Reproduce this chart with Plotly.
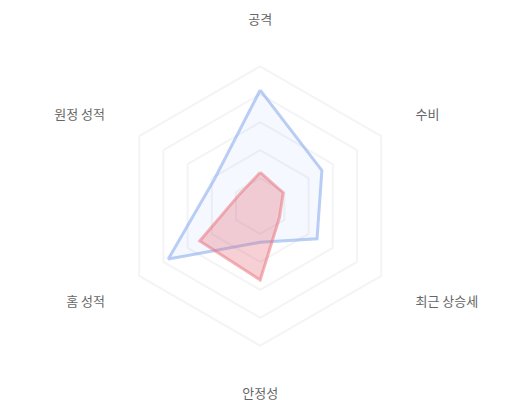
import plotly.graph_objects as go

# 레이더 차트 항목
categories = ["공격", "수비", "최근 상승세", "안정성", "홈 성적", "원정 성적"]

# 두 팀 점수 (0~100)
team_a = [83, 51, 47, 26, 76, 38]
team_b = [24, 19, 16, 53, 50, 17]

grid_levels = [20, 40, 60, 80, 100]


def closed(values):
    return values + values[:1]


fig = go.Figure()

fig.add_trace(go.Scatterpolar(
    r=closed(team_a),
    theta=closed(categories),
    mode="lines",
    fill="toself",
    fillcolor="rgba(110,150,235,0.07)",
    line=dict(color="rgba(120,160,235,0.5)", width=3),
    name="A",
))
fig.add_trace(go.Scatterpolar(
    r=closed(team_b),
    theta=closed(categories),
    mode="lines",
    fill="toself",
    fillcolor="rgba(230,100,115,0.3)",
    line=dict(color="rgba(235,120,130,0.55)", width=3),
    name="B",
))

# 페이지 기본 여백(8px)을 감안해 중심을 살짝 옮김
fig.update_layout(
    width=520,
    height=400,
    margin=dict(l=0, r=0, t=0, b=0),
    paper_bgcolor="white",
    showlegend=False,
    font=dict(family="Noto Sans CJK KR", size=13, color="#666666"),
    polar=dict(
        bgcolor="white",
        gridshape="linear",
        domain=dict(x=[0.141, 0.829], y=[0.058, 0.952]),
        radialaxis=dict(
            range=[0, 128],
            tickvals=grid_levels,
            showticklabels=False,
            ticks="",
            showline=False,
            gridcolor="#f4f4f6",
            gridwidth=1.5,
        ),
        angularaxis=dict(
            rotation=90,
            direction="clockwise",
            showline=False,
            showgrid=False,
            ticks="",
            tickfont=dict(size=13, color="#666666"),
        ),
    ),
)

fig.write_html("out.html")
